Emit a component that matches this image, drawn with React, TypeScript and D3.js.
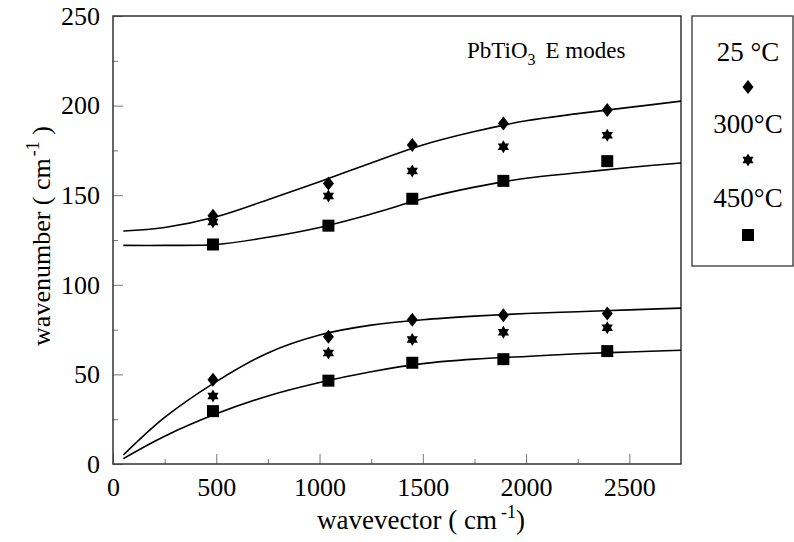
import React, { useEffect, useRef } from "react";
import * as d3 from "d3";

// measured points (wavevector cm-1 -> wavenumber cm-1)
const qPoints = [484, 1043, 1449, 1890, 2393];
const upper25 = [138.5, 156.5, 178, 190, 197.5];
const upper300 = [135, 149.5, 163.5, 177, 183.5];
const upper450 = [122.5, 133, 148, 158, 169];
const lower25 = [47, 71, 80.5, 83, 84];
const lower300 = [38, 62, 69.5, 73.5, 76];
const lower450 = [29.5, 46.5, 56.5, 58.5, 63];

// fitted dispersion curves
const curveQ = [50, 250, 500, 750, 1000, 1250, 1500, 1750, 2000, 2250, 2500, 2750];
const fitUpperHigh = [130, 132, 138, 147.5, 157.5, 168, 178, 185.5, 191.5, 195.5, 199, 202.5];
const fitUpperLow = [122, 122, 122.5, 126.5, 132, 139.5, 148, 154.5, 159.5, 162.5, 165.5, 168];
const fitLowerHigh = [5, 26, 46, 62, 72, 77.5, 80.5, 82.5, 84, 85, 86, 87];
const fitLowerLow = [3, 15.5, 28, 38, 45.5, 51.5, 56, 58.5, 60, 61.5, 62.5, 63.5];

const xMajor = [0, 500, 1000, 1500, 2000, 2500];
const xMinor = [250, 750, 1250, 1750, 2250];
const yMajor = [0, 50, 100, 150, 200, 250];
const yMinor = [25, 75, 125, 175, 225];

const legendLabels = ["25 °C", "300°C", "450°C"];
const FONT = "Liberation Serif";

function hexagram(r: number) {
  const pts: string[] = [];
  for (let i = 0; i < 12; i++) {
    const a = (Math.PI / 6) * i - Math.PI / 2;
    const rr = i % 2 === 0 ? r : r / Math.sqrt(3);
    pts.push((rr * Math.cos(a)).toFixed(2) + "," + (rr * Math.sin(a)).toFixed(2));
  }
  return "M" + pts.join("L") + "Z";
}

function drawMarker(g: any, kind: number, cx: number, cy: number) {
  if (kind === 0) {
    g.append("path")
      .attr("d", "M0,-7L5.5,0L0,7L-5.5,0Z")
      .attr("transform", `translate(${cx},${cy})`)
      .attr("fill", "#000");
  } else if (kind === 1) {
    g.append("path")
      .attr("d", hexagram(6.5))
      .attr("transform", `translate(${cx},${cy})`)
      .attr("fill", "#000");
  } else {
    g.append("rect")
      .attr("x", cx - 6)
      .attr("y", cy - 6)
      .attr("width", 12)
      .attr("height", 12)
      .attr("fill", "#000");
  }
}

function drawChart(container: SVGSVGElement) {
  const left = 113,
    right = 681,
    top = 16,
    bottom = 464;

  const svg = d3.select(container).attr("font-family", FONT);
  svg.selectAll("*").remove();

  const x = d3.scaleLinear().domain([0, 2750]).range([left, right]);
  const y = d3.scaleLinear().domain([0, 250]).range([bottom, top]);
  const fmt = d3.format("d");

  // major and minor ticks pointing inward
  svg.append("g")
    .attr("transform", `translate(0,${bottom})`)
    .call(d3.axisBottom(x).tickValues(xMajor).tickFormat(fmt as any).tickSizeInner(-10).tickSizeOuter(0).tickPadding(14))
    .call((g: any) => g.select(".domain").remove());
  svg.append("g")
    .attr("transform", `translate(0,${bottom})`)
    .call(d3.axisBottom(x).tickValues(xMinor).tickSizeInner(-5).tickSizeOuter(0).tickFormat(() => ""))
    .call((g: any) => g.select(".domain").remove());
  svg.append("g")
    .attr("transform", `translate(${left},0)`)
    .call(d3.axisLeft(y).tickValues(yMajor).tickFormat(fmt as any).tickSizeInner(-10).tickSizeOuter(0).tickPadding(13))
    .call((g: any) => g.select(".domain").remove());
  svg.append("g")
    .attr("transform", `translate(${left},0)`)
    .call(d3.axisLeft(y).tickValues(yMinor).tickSizeInner(-5).tickSizeOuter(0).tickFormat(() => ""))
    .call((g: any) => g.select(".domain").remove());

  svg.selectAll("g").attr("font-family", FONT).attr("font-size", 26);
  svg.selectAll(".tick line").attr("stroke", "#777").attr("stroke-width", 1);
  svg.selectAll(".tick text").attr("fill", "#000");

  // plot frame
  svg.append("rect")
    .attr("x", left)
    .attr("y", top)
    .attr("width", right - left)
    .attr("height", bottom - top)
    .attr("fill", "none")
    .attr("stroke", "#333")
    .attr("stroke-width", 1.5);

  // fitted curves
  const line = d3.line<number>()
    .x((_, i) => x(curveQ[i]))
    .y((d) => y(d))
    .curve(d3.curveCatmullRom.alpha(0.5));
  [fitUpperHigh, fitUpperLow, fitLowerHigh, fitLowerLow].forEach((c) => {
    svg.append("path")
      .attr("d", line(c))
      .attr("fill", "none")
      .attr("stroke", "#000")
      .attr("stroke-width", 1.6);
  });

  // data markers
  const marks = svg.append("g");
  const series = [
    [upper25, lower25],
    [upper300, lower300],
    [upper450, lower450],
  ];
  series.forEach((pair, kind) => {
    pair.forEach((vals) => {
      vals.forEach((v, i) => drawMarker(marks, kind, x(qPoints[i]), y(v)));
    });
  });

  // title inside plot
  const t = svg.append("text")
    .attr("x", 467)
    .attr("y", 58)
    .attr("font-size", 23);
  t.append("tspan").text("PbTiO");
  t.append("tspan").attr("dy", 7).attr("font-size", 16).text("3");
  t.append("tspan").attr("dy", -7).attr("dx", 10).text("E modes");

  // axis titles
  const xt = svg.append("text")
    .attr("x", 421)
    .attr("y", 529)
    .attr("text-anchor", "middle")
    .attr("font-size", 27);
  xt.append("tspan").text("wavevector ( cm");
  xt.append("tspan").attr("dy", -11).attr("dx", 4).attr("font-size", 18).text("-1");
  xt.append("tspan").attr("dy", 11).text(")");

  const yt = svg.append("text")
    .attr("transform", "translate(50,236) rotate(-90)")
    .attr("text-anchor", "middle")
    .attr("font-size", 26);
  yt.append("tspan").text("wavenumber ( cm");
  yt.append("tspan").attr("dy", -11).attr("dx", 2).attr("font-size", 18).text("-1");
  yt.append("tspan").attr("dy", 11).text(" )");

  // legend
  svg.append("rect")
    .attr("x", 692)
    .attr("y", 16)
    .attr("width", 101)
    .attr("height", 250)
    .attr("fill", "none")
    .attr("stroke", "#333")
    .attr("stroke-width", 1.3);
  const lg = svg.append("g");
  const labelY = [61, 133, 207];
  const markY = [87, 160, 235];
  legendLabels.forEach((lab, i) => {
    lg.append("text")
      .attr("x", 748)
      .attr("y", labelY[i])
      .attr("text-anchor", "middle")
      .attr("font-size", 27)
      .text(lab);
    drawMarker(lg, i, 748, markY[i]);
  });
}

export default function App() {
  const ref = useRef<SVGSVGElement>(null);
  useEffect(() => {
    if (ref.current) drawChart(ref.current);
  }, []);
  return (
    <svg
      ref={ref}
      width={794}
      height={542}
      style={{ position: "absolute", left: 0, top: 0, background: "#fff" }}
    />
  );
}
